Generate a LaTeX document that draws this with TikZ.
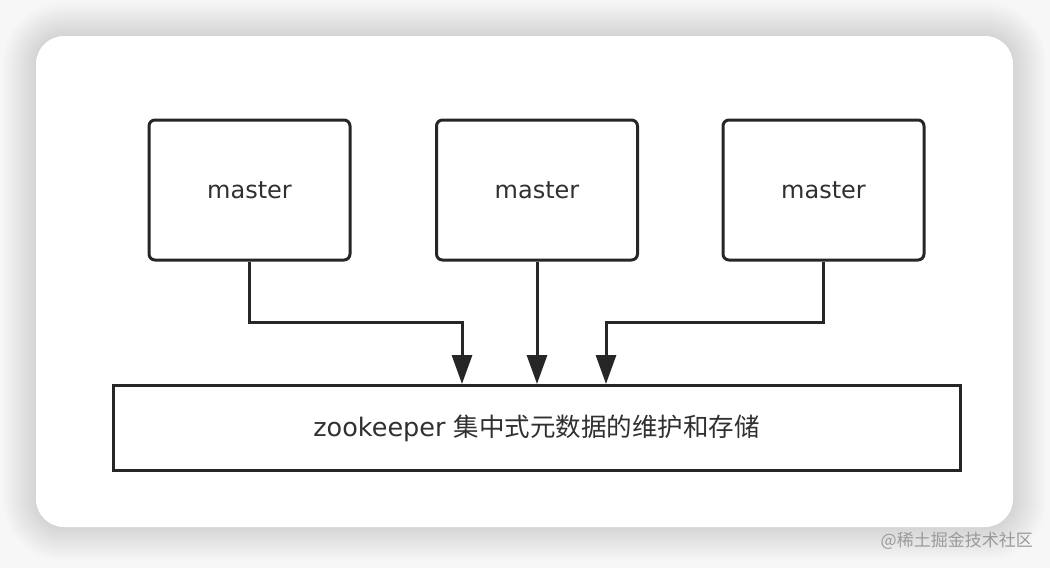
\documentclass[tikz,border=0pt]{standalone}
\usepackage{fontspec}
\setmainfont{DejaVu Sans}
\newfontfamily\cjk{Noto Sans CJK SC}
\usetikzlibrary{arrows.meta}
\definecolor{ink}{HTML}{262626}
\definecolor{txt}{HTML}{303030}
\definecolor{bgc}{HTML}{F7F7F7}
\definecolor{wm}{HTML}{9A9A9A}
\tikzset{
  masterbox/.style={draw=ink, line width=3pt, rounded corners=6pt, fill=white,
    minimum width=201pt, minimum height=140pt, inner sep=0pt,
    font=\fontsize{24}{28}\selectfont, text=txt},
  zkbox/.style={draw=ink, line width=3pt, fill=white,
    minimum width=847pt, minimum height=85pt, inner sep=0pt,
    font=\fontsize{25.5}{30}\selectfont, text=txt},
  arr/.style={draw=ink, line width=3pt, -{Triangle[width=20pt,length=29pt]}},
}
\begin{document}
\begin{tikzpicture}[x=1pt,y=-1pt]
\useasboundingbox (0,0) rectangle (1050,568);
\fill[bgc] (0,0) rectangle (1050,568);
% shadow
\foreach \i in {1,...,34}{
  \fill[black,opacity=0.0045,rounded corners={28+\i}] (36-\i,36-\i) rectangle (1013+\i,527+\i);
}
% card
\fill[white,rounded corners=28pt] (36,36) rectangle (1013,527);
% watermark
\node[text=wm, font=\cjk\fontsize{17}{20}\selectfont, anchor=east, inner sep=0pt] (wmk) at (1033,541) {@稀土掘金技术社区};
% boxes
\node[masterbox] (m1) at (249.5,190) {master};
\node[masterbox] (m2) at (537,190) {master};
\node[masterbox] (m3) at (823.5,190) {master};
\node[zkbox] (zk) at (536.5,428) {zookeeper {\cjk 集中式元数据的维护和存储}};
% connectors
\coordinate (j1) at (462,322);
\coordinate (j3) at (606,322);
\draw[arr] (m1.south) |- (j1) -- (j1 |- zk.north);
\draw[arr] (m2.south) -- (m2.south |- zk.north);
\draw[arr] (m3.south) |- (j3) -- (j3 |- zk.north);
\end{tikzpicture}
\end{document}
